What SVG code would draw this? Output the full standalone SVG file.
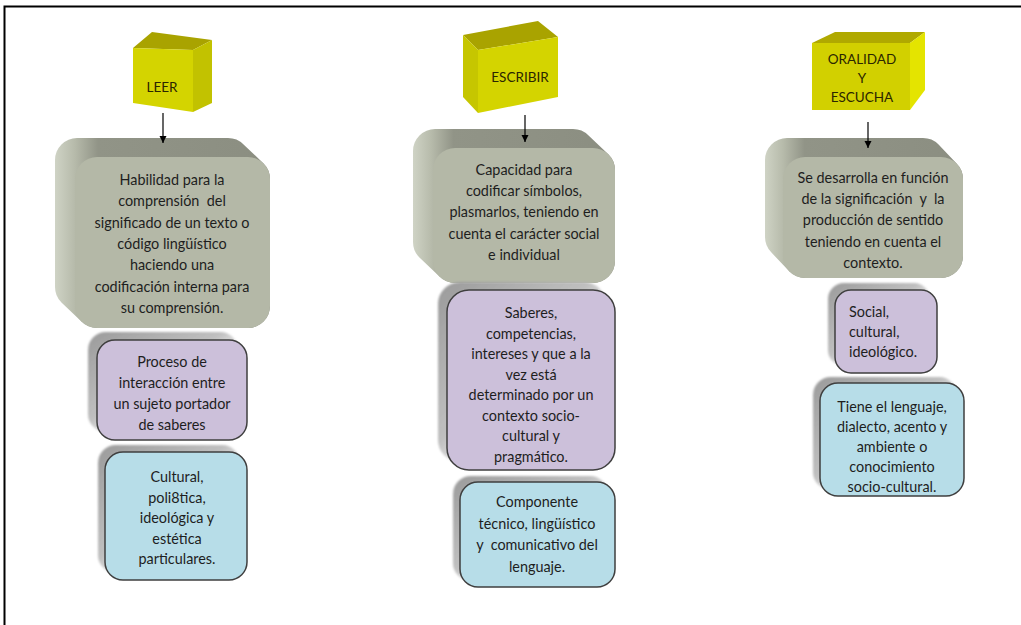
<svg xmlns="http://www.w3.org/2000/svg" width="1021" height="625" viewBox="0 0 1021 625">
<style>
.t{font-family:Lato,"Liberation Sans",sans-serif;font-size:14.4px;fill:#1e1e1e;text-anchor:middle}
.tl{text-anchor:start}
.ct{font-family:Lato,"Liberation Sans",sans-serif;font-size:13.5px;fill:#2b2600;text-anchor:middle}
.hull{fill:url(#bevel)}
.face{fill:#b4b8a7}
.pur{fill:#ccc0da;stroke:#3f3f3f;stroke-width:1.5}
.blu{fill:#b7dde8;stroke:#3f3f3f;stroke-width:1.5}
.sh{fill:url(#shg);filter:url(#blur)}
.cf{fill:#d4d400}
.ctop{fill:#a9a300}
.conn{stroke:#000;stroke-width:1.2;fill:none;marker-end:url(#ah)}
</style>
<defs>
<linearGradient id="bevel" x1="0" y1="0" x2="1" y2="0">
<stop offset="0" stop-color="#cfd3c5"/>
<stop offset="0.09" stop-color="#b7bbab"/>
<stop offset="0.2" stop-color="#919487"/>
<stop offset="1" stop-color="#8b8e81"/>
</linearGradient>
<linearGradient id="shg" x1="0" y1="0" x2="1" y2="1">
<stop offset="0" stop-color="#9a9a9a"/>
<stop offset="0.45" stop-color="#b4b4b4" stop-opacity="0.85"/>
<stop offset="0.8" stop-color="#ffffff" stop-opacity="0"/>
</linearGradient>
<filter id="blur" x="-10%" y="-10%" width="120%" height="120%"><feGaussianBlur stdDeviation="1.2"/></filter>
<marker id="ah" markerWidth="8" markerHeight="8" refX="7" refY="4" orient="auto" markerUnits="userSpaceOnUse">
<path d="M0,0.5 L7,4 L0,7.5 Z" fill="#000"/>
</marker>
</defs>
<rect x="0" y="0" width="1021" height="625" fill="#fff"/>
<path d="M4.5,625 L4.5,6.5 L1021,6.5" fill="none" stroke="#000" stroke-width="2"/>

<g id="leer">
<polygon class="ctop" points="133,48 152,32 212,40 193,50"/>
<polygon fill="#c2c200" points="193,50 212,40 212,103 193,112"/>
<polygon class="cf" points="133,48 193,50 193,112 133,103"/>
<text class="ct" x="162" y="92">LEER</text>
</g>

<g id="escribir">
<polygon class="ctop" points="463,35 538,21 558,37 478,50"/>
<polygon fill="#c6c600" points="463,35 478,50 478,113 463,97"/>
<polygon class="cf" points="478,50 558,37 558,97 478,113"/>
<text class="ct" x="520" y="82">ESCRIBIR</text>
</g>

<g id="oralidad">
<polygon fill="#b0a900" points="812,43 835,32 925,32 910,43"/>
<polygon fill="#e4e400" points="910,43 925,32 925,90 910,110"/>
<polygon fill="#d2d000" points="812,43 910,43 910,110 812,110"/>
<text class="ct" x="862" y="64">ORALIDAD</text>
<text class="ct" x="862" y="83">Y</text>
<text class="ct" x="862" y="102">ESCUCHA</text>
</g>

<g id="leer-def">
<path class="hull" d="M55,160 A22,22 0 0 1 77,138 L228,138 A22,22 0 0 1 243.56,144.44 L263.56,163.44 A22,22 0 0 1 270,179 L270,306 A22,22 0 0 1 248,328 L97,328 A22,22 0 0 1 81.44,321.56 L61.44,302.56 A22,22 0 0 1 55,287 Z"/>
<rect class="face" x="75" y="157" width="195" height="171" rx="22"/>
<text class="t" x="172" y="185"><tspan x="172">Habilidad para la</tspan><tspan x="172" dy="21.3">comprensión&#160; del</tspan><tspan x="172" dy="21.3">significado de un texto o</tspan><tspan x="172" dy="21.3">código lingüístico</tspan><tspan x="172" dy="21.3">haciendo una</tspan><tspan x="172" dy="21.3">codificación interna para</tspan><tspan x="172" dy="21.3">su comprensión.</tspan></text>
</g>

<g id="leer-proceso">
<rect class="sh" x="88" y="332" width="150" height="100" rx="18"/>
<rect class="pur" x="97" y="340" width="150" height="100" rx="18"/>
<text class="t" x="172" y="367"><tspan x="172">Proceso de</tspan><tspan x="172" dy="21">interacción entre</tspan><tspan x="172" dy="21">un sujeto portador</tspan><tspan x="172" dy="21">de saberes</tspan></text>
</g>

<g id="leer-cultural">
<rect class="sh" x="98" y="445" width="142" height="128" rx="18"/>
<rect class="blu" x="105" y="452" width="142" height="128" rx="18"/>
<text class="t" x="177" y="482"><tspan x="177">Cultural,</tspan><tspan x="177" dy="20.5">poli8tica,</tspan><tspan x="177" dy="20.5">ideológica y</tspan><tspan x="177" dy="20.5">estética</tspan><tspan x="177" dy="20.5">particulares.</tspan></text>
</g>

<g id="escribir-def">
<path class="hull" d="M413,151 A22,22 0 0 1 435,129 L573,129 A22,22 0 0 1 588.56,135.44 L608.56,154.44 A22,22 0 0 1 615,170 L615,261 A22,22 0 0 1 593,283 L455,283 A22,22 0 0 1 439.44,276.56 L419.44,257.56 A22,22 0 0 1 413,242 Z"/>
<rect class="face" x="433" y="148" width="182" height="135" rx="22"/>
<text class="t" x="524" y="175"><tspan x="524">Capacidad para</tspan><tspan x="524" dy="21.2">codificar símbolos,</tspan><tspan x="524" dy="21.2">plasmarlos, teniendo en</tspan><tspan x="524" dy="21.2">cuenta el carácter social</tspan><tspan x="524" dy="21.2">e individual</tspan></text>
</g>

<g id="escribir-saberes">
<rect class="sh" x="438" y="282" width="168" height="180" rx="22"/>
<rect class="pur" x="447" y="290" width="168" height="180" rx="22"/>
<text class="t" x="531" y="318"><tspan x="531">Saberes,</tspan><tspan x="531" dy="20.5">competencias,</tspan><tspan x="531" dy="20.5">intereses y que a la</tspan><tspan x="531" dy="20.5">vez está</tspan><tspan x="531" dy="20.5">determinado por un</tspan><tspan x="531" dy="20.5">contexto socio-</tspan><tspan x="531" dy="20.5">cultural y</tspan><tspan x="531" dy="20.5">pragmático.</tspan></text>
</g>

<g id="escribir-componente">
<rect class="sh" x="453" y="476" width="155" height="105" rx="18"/>
<rect class="blu" x="460" y="482" width="155" height="105" rx="18"/>
<text class="t" x="537" y="507"><tspan x="537">Componente</tspan><tspan x="537" dy="21.7">técnico, lingüístico</tspan><tspan x="537" dy="21.7">y&#160; comunicativo del</tspan><tspan x="537" dy="21.7">lenguaje.</tspan></text>
</g>

<g id="oralidad-def">
<path class="hull" d="M765,160 A22,22 0 0 1 787,138 L923,138 A22,22 0 0 1 938.56,144.44 L956.56,163.44 A22,22 0 0 1 963,179 L963,256 A22,22 0 0 1 941,278 L805,278 A22,22 0 0 1 789.44,271.56 L771.44,252.56 A22,22 0 0 1 765,237 Z"/>
<rect class="face" x="783" y="157" width="180" height="121" rx="22"/>
<text class="t" x="873" y="183"><tspan x="873">Se desarrolla en función</tspan><tspan x="873" dy="21.2">de la significación&#160; y&#160; la</tspan><tspan x="873" dy="21.2">producción de sentido</tspan><tspan x="873" dy="21.2">teniendo en cuenta el</tspan><tspan x="873" dy="21.2">contexto.</tspan></text>
</g>

<g id="oralidad-social">
<rect class="sh" x="828" y="283" width="102" height="83" rx="16"/>
<rect class="pur" x="835" y="290" width="102" height="83" rx="16"/>
<text class="t tl" x="849" y="317"><tspan x="849">Social,</tspan><tspan x="849" dy="20">cultural,</tspan><tspan x="849" dy="20">ideológico.</tspan></text>
</g>

<g id="oralidad-lenguaje">
<rect class="sh" x="813" y="377" width="144" height="113" rx="18"/>
<rect class="blu" x="820" y="383" width="144" height="113" rx="18"/>
<text class="t" x="892" y="412"><tspan x="892">Tiene el lenguaje,</tspan><tspan x="892" dy="20">dialecto, acento y</tspan><tspan x="892" dy="20">ambiente o</tspan><tspan x="892" dy="20">conocimiento</tspan><tspan x="892" dy="20">socio-cultural.</tspan></text>
</g>

<g id="connectors">
<line class="conn" x1="163" y1="113" x2="163" y2="143"/>
<line class="conn" x1="525" y1="115" x2="525" y2="142"/>
<line class="conn" x1="868" y1="122" x2="868" y2="148"/>
</g>
</svg>
